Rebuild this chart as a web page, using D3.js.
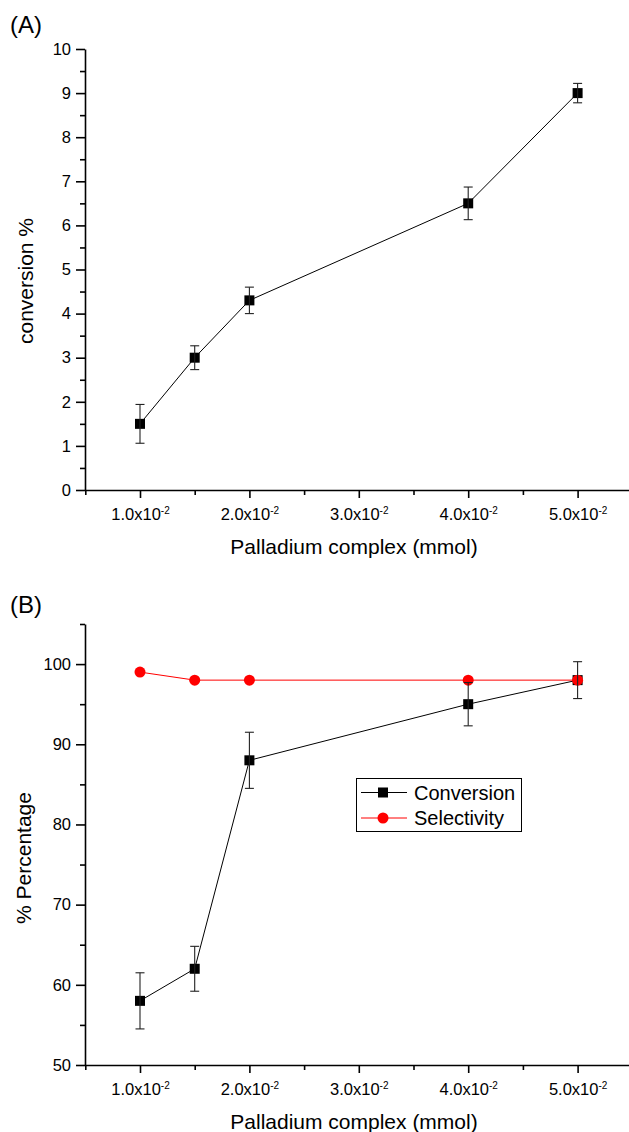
<!DOCTYPE html>
<html>
<head>
<meta charset="utf-8">
<script src="https://cdn.jsdelivr.net/npm/d3@7"></script>
<style>
  body { margin: 0; background: #fff; }
  svg, svg text { font-family: Arial, "Liberation Sans", sans-serif; }
</style>
</head>
<body>
<script>
// data
const concentration = [0.010, 0.015, 0.020, 0.040, 0.050];
const conversionA = [1.5, 3.0, 4.3, 6.5, 9.0];
const errorA = [0.44, 0.27, 0.3, 0.37, 0.22];
const conversionB = [58, 62, 88, 95, 98];
const errorB = [3.5, 2.8, 3.5, 2.7, 2.3];
const selectivityB = [99, 98, 98, 98, 98];
const xTicks = [0.01, 0.02, 0.03, 0.04, 0.05];
const xMinorTicks = [0.005, 0.015, 0.025, 0.035, 0.045, 0.055];
const seriesNames = ["Conversion", "Selectivity"];

let width = 629;
let height = 1132;

let svg = d3.select("body").append("svg")
    .attr("width", width)
    .attr("height", height)
    .attr("viewBox", [0, 0, width, height]);

// same x scale for both panels
let x = d3.scaleLinear()
    .domain([0.005, 0.055])
    .range([85.3, 632.3]);

function drawPanel(opt) {
  const g = svg.append("g");
  const y = opt.y;
  const bottom = y.range()[0];

  // panel letter
  g.append("text")
      .attr("x", 10)
      .attr("y", opt.labelY)
      .attr("font-size", "24px")
      .text(opt.label);

  // x axis, major ticks with labels
  g.append("g")
      .attr("transform", `translate(0,${bottom})`)
      .call(d3.axisBottom(x).tickValues(xTicks).tickSize(8).tickPadding(10).tickSizeOuter(0))
      .attr("font-family", "Arial, 'Liberation Sans', sans-serif")
      .call(a => a.select(".domain").attr("stroke-width", 1.6))
      .call(a => a.selectAll(".tick line").attr("stroke-width", 1.6))
      .call(a => a.selectAll(".tick text")
          .attr("font-size", "16.5px")
          .attr("fill", "#000")
          .each(function(d) {
            const t = d3.select(this);
            t.text(null);
            t.append("tspan").text(d3.format(".1f")(d * 100) + "x10");
            t.append("tspan").attr("dy", "-0.6em").attr("font-size", "10px").text("-2");
          }));

  // x axis minor ticks
  g.append("g")
      .attr("transform", `translate(0,${bottom})`)
      .call(d3.axisBottom(x).tickValues(xMinorTicks).tickSize(5).tickFormat(""))
      .call(a => a.select(".domain").remove())
      .call(a => a.selectAll(".tick line").attr("stroke-width", 1.6));

  // y axis
  g.append("g")
      .attr("transform", `translate(85,0)`)
      .call(d3.axisLeft(y).tickValues(opt.yTicks).tickSize(9).tickPadding(5).tickSizeOuter(0))
      .attr("font-family", "Arial, 'Liberation Sans', sans-serif")
      .call(a => a.select(".domain").attr("stroke-width", 1.6))
      .call(a => a.selectAll(".tick line").attr("stroke-width", 1.6))
      .call(a => a.selectAll(".tick text").attr("font-size", "16.5px").attr("fill", "#000"));

  g.append("g")
      .attr("transform", `translate(85,0)`)
      .call(d3.axisLeft(y).tickValues(opt.yMinor).tickSize(5).tickFormat(""))
      .call(a => a.select(".domain").remove())
      .call(a => a.selectAll(".tick line").attr("stroke-width", 1.6));

  // axis titles
  g.append("text")
      .attr("x", 354)
      .attr("y", bottom + 64)
      .attr("text-anchor", "middle")
      .attr("font-size", "21px")
      .text("Palladium complex (mmol)");

  g.append("text")
      .attr("transform", `translate(${opt.titleX},${opt.titleY}) rotate(-90)`)
      .attr("text-anchor", "middle")
      .attr("font-size", "21px")
      .text(opt.yTitle);

  return g;
}

function drawSquares(g, y, values) {
  const line = d3.line()
      .x((d, i) => x(concentration[i]))
      .y(d => y(d));

  g.append("path")
      .datum(values)
      .attr("fill", "none")
      .attr("stroke", "#000")
      .attr("stroke-width", 1)
      .attr("d", line);

  g.append("g")
      .selectAll("rect")
      .data(values)
      .join("rect")
      .attr("x", (d, i) => x(concentration[i]) - 5)
      .attr("y", d => y(d) - 5)
      .attr("width", 10)
      .attr("height", 10)
      .attr("fill", "#000");
}

function drawErrors(g, y, values, errors) {
  const eb = g.append("g")
      .attr("stroke", "#222")
      .attr("stroke-width", 1.1)
      .selectAll("g")
      .data(values)
      .join("g");

  eb.append("line")
      .attr("x1", (d, i) => x(concentration[i]))
      .attr("x2", (d, i) => x(concentration[i]))
      .attr("y1", (d, i) => y(d + errors[i]))
      .attr("y2", (d, i) => y(d - errors[i]));

  eb.append("line")
      .attr("x1", (d, i) => x(concentration[i]) - 4.5)
      .attr("x2", (d, i) => x(concentration[i]) + 4.5)
      .attr("y1", (d, i) => y(d + errors[i]))
      .attr("y2", (d, i) => y(d + errors[i]));

  eb.append("line")
      .attr("x1", (d, i) => x(concentration[i]) - 4.5)
      .attr("x2", (d, i) => x(concentration[i]) + 4.5)
      .attr("y1", (d, i) => y(d - errors[i]))
      .attr("y2", (d, i) => y(d - errors[i]));
}

// Panel A
let yA = d3.scaleLinear().domain([0, 10]).range([490, 49]);
let gA = drawPanel({
  y: yA, label: "(A)", labelY: 33,
  yTicks: d3.range(0, 11, 1), yMinor: d3.range(0.5, 10, 1),
  yTitle: "conversion %", titleX: 33, titleY: 281
});
drawSquares(gA, yA, conversionA);
drawErrors(gA, yA, conversionA, errorA);

// Panel B
let yB = d3.scaleLinear().domain([50, 105]).range([1065, 624]);
let gB = drawPanel({
  y: yB, label: "(B)", labelY: 613,
  yTicks: d3.range(50, 101, 10), yMinor: d3.range(55, 106, 10),
  yTitle: "% Percentage", titleX: 31, titleY: 858
});
drawSquares(gB, yB, conversionB);

gB.append("path")
    .datum(selectivityB)
    .attr("fill", "none")
    .attr("stroke", "#ff0000")
    .attr("stroke-width", 1)
    .attr("d", d3.line().x((d, i) => x(concentration[i])).y(d => yB(d)));

gB.append("g")
    .selectAll("circle")
    .data(selectivityB)
    .join("circle")
    .attr("cx", (d, i) => x(concentration[i]))
    .attr("cy", d => yB(d))
    .attr("r", 5.5)
    .attr("fill", "#ff0000");

drawErrors(gB, yB, conversionB, errorB);

// legend
let legend = gB.append("g");
legend.append("rect")
    .attr("x", 356.5)
    .attr("y", 778.5)
    .attr("width", 165)
    .attr("height", 53)
    .attr("fill", "#fff")
    .attr("stroke", "#000")
    .attr("stroke-width", 1);

let legendRow = legend.selectAll("g.row")
    .data(seriesNames)
    .join("g")
    .attr("class", "row")
    .attr("transform", (d, i) => `translate(0,${792.5 + i * 25.5})`);

legendRow.append("line")
    .attr("x1", 361).attr("x2", 407)
    .attr("stroke", (d, i) => i ? "#ff0000" : "#000")
    .attr("stroke-width", 1);

legendRow.filter((d, i) => i === 0).append("rect")
    .attr("x", 378).attr("y", -5).attr("width", 10).attr("height", 10)
    .attr("fill", "#000");

legendRow.filter((d, i) => i === 1).append("circle")
    .attr("cx", 383).attr("r", 5.5)
    .attr("fill", "#ff0000");

legendRow.append("text")
    .attr("x", 414)
    .attr("dy", "0.35em")
    .attr("font-size", "20px")
    .text(d => d);
</script>
</body>
</html>
